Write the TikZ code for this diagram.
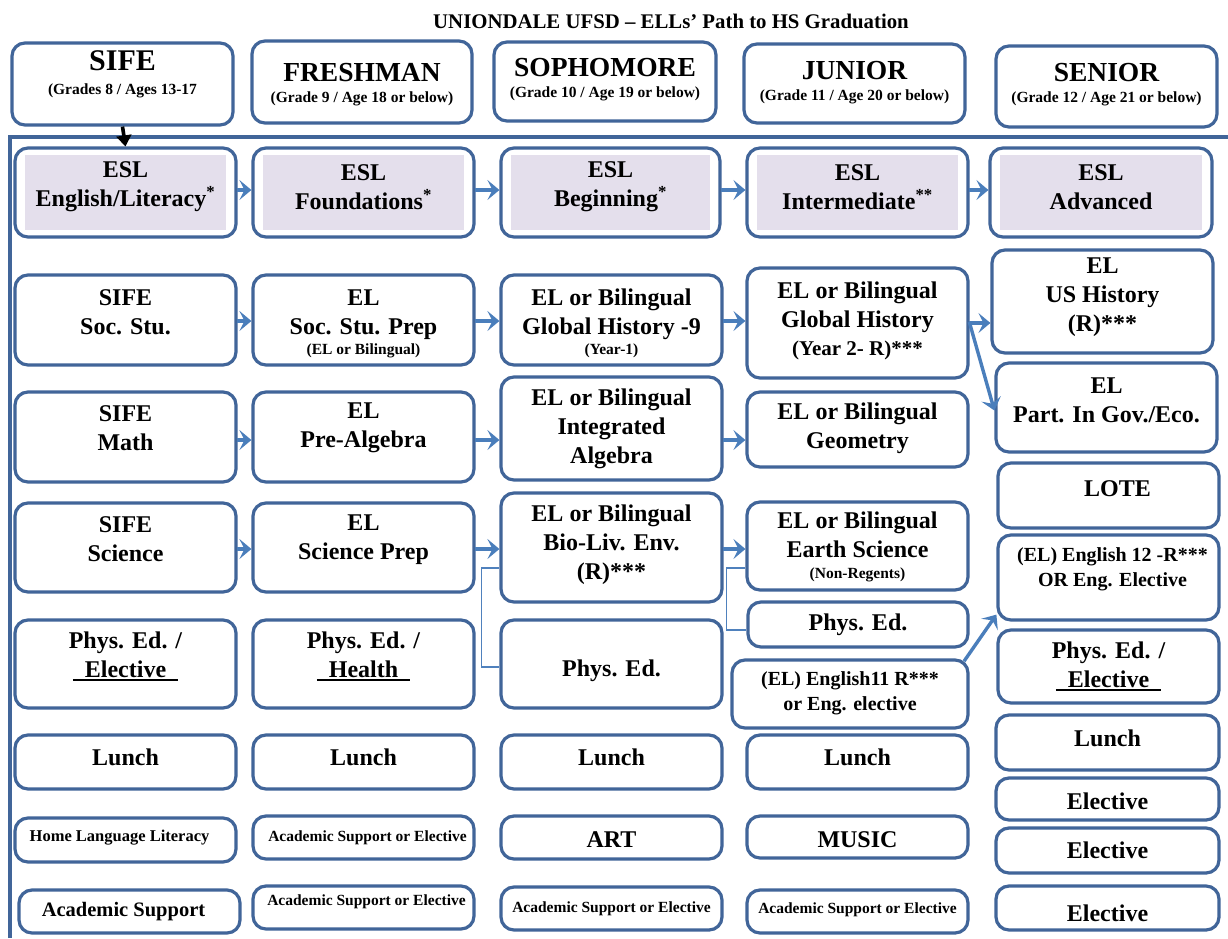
\documentclass[tikz,border=0pt]{standalone}
\usepackage{fontspec}
\setmainfont{Liberation Serif}
\usetikzlibrary{arrows.meta,fit}
\definecolor{bord}{RGB}{65,101,153}
\definecolor{arrc}{RGB}{74,126,187}
\definecolor{lav}{RGB}{228,223,236}
\definecolor{brkc}{RGB}{79,129,189}
\newcommand\fmain{\bfseries\fontsize{24}{29}\selectfont}
\newcommand\fhd{\bfseries\fontsize{27.5}{21}\selectfont}
\newcommand\fsf{\bfseries\fontsize{30}{24}\selectfont}
\newcommand\fsm{\bfseries\fontsize{15.5}{18}\selectfont}
\newcommand\fyr{\bfseries\fontsize{21}{25}\selectfont}
\newcommand\feng{\bfseries\fontsize{20}{25}\selectfont}
\newcommand\fhl{\bfseries\fontsize{16.5}{20}\selectfont}
\newcommand\fas{\bfseries\fontsize{15.5}{18}\selectfont}
\newcommand\fasb{\bfseries\fontsize{20.5}{24}\selectfont}
\newcommand\myul[1]{\setbox0\hbox{#1}\rlap{\rule[-3.5pt]{\wd0}{2pt}}\box0}
\newcommand\mybox[7]{\node[box, fit={(#2,#3)(#4,#5)}] (#1) {};\node[txt,#6] (#1-t) at (#1.center) {#7};}
\newcommand\eslbox[6]{\node[box, fit={(#2,#3)(#4,#5)}] (#1) {};
 \fill[lav] ([xshift=11.5pt,yshift=-8.5pt]#1.north west) rectangle ([xshift=-11.5pt,yshift=8.5pt]#1.south east);
 \node[txt, yshift=5.5pt] (#1-t) at (#1.center) {#6};}
\begin{document}
\begin{tikzpicture}[x=1pt,y=-1pt,
 box/.style={draw=bord, line width=3.2pt, rounded corners=13pt, inner sep=0pt},
 txt/.style={align=center, inner sep=0pt, font=\fmain},
 arr/.style={draw=arrc, line width=3.4pt, -{Stealth[length=12pt,width=20pt,inset=5pt]}, shorten <=-1pt},
 brk/.style={draw=brkc, line width=1.1pt},
 frame/.style={draw=bord, line width=3.5pt}]
\useasboundingbox (0,0) rectangle (1228,938);
\fill[white] (0,0) rectangle (1228,938);
\node[font=\bfseries\fontsize{20.8}{23}\selectfont] (title) at (671,21) {UNIONDALE UFSD – ELLs’ Path to HS Graduation};
\draw[frame] (10,938) -- (10,137) -- (1228,137);
% headers
\mybox{h1}{12}{43}{233}{125}{font=\fsf, yshift=9.5pt}{SIFE\\{\fsm (Grades 8 / Ages 13-17}}
\mybox{h2}{252}{41}{472}{123}{font=\fhd, yshift=-2.5pt}{FRESHMAN\\{\fsm (Grade 9 / Age 18 or below)}}
\mybox{h3}{494}{42}{716}{121}{font=\fhd, yshift=2pt}{SOPHOMORE\\{\fsm (Grade 10 / Age 19 or below)}}
\mybox{h4}{744}{44}{965}{123}{font=\fhd, yshift=1pt}{JUNIOR\\{\fsm (Grade 11 / Age 20 or below)}}
\mybox{h5}{996}{46}{1217}{127}{font=\fhd, yshift=1.5pt}{SENIOR\\{\fsm (Grade 12 / Age 21 or below)}}
% ESL row
\eslbox{e1}{15}{148}{236}{237}{ESL\\English/Literacy\textsuperscript{*}}
\eslbox{e2}{253}{148}{474}{237}{ESL\\Foundations\textsuperscript{*}}
\eslbox{e3}{501}{148}{720}{237}{ESL\\Beginning\textsuperscript{*}}
\eslbox{e4}{747}{148}{968}{237}{ESL\\Intermediate\textsuperscript{**}}
\eslbox{e5}{990}{148}{1212}{237}{ESL\\Advanced}
% row 2
\mybox{s1}{15}{275}{236}{365}{yshift=8pt}{SIFE\\Soc. Stu.}
\mybox{s2}{253}{275}{474}{365}{yshift=-3.5pt}{EL\\Soc. Stu. Prep\\[-9pt]{\fsm (EL or Bilingual)}}
\mybox{s3}{501}{275}{722}{365}{yshift=-3pt}{EL or Bilingual\\Global History -9\\[-9pt]{\fsm (Year-1)}}
\mybox{s4}{747}{268}{968}{378}{yshift=2.5pt}{EL or Bilingual\\Global History\\[-1pt]{\fyr (Year 2- R)***}}
\mybox{s5}{992}{250}{1213}{353}{yshift=4.5pt}{EL\\US History\\(R)***}
\mybox{s6}{996}{363}{1217}{452}{yshift=7.5pt}{EL\\Part. In Gov./Eco.}
% row 3
\mybox{m1}{15}{392}{236}{482}{yshift=9pt}{SIFE\\Math}
\mybox{m2}{253}{392}{474}{482}{yshift=9pt}{EL\\Pre-Algebra}
\mybox{m3}{501}{377}{722}{480}{}{EL or Bilingual\\Integrated\\Algebra}
\mybox{m4}{747}{392}{968}{467}{yshift=1pt}{EL or Bilingual\\Geometry}
\mybox{lote}{998}{463}{1219}{528}{yshift=6.5pt, xshift=9pt}{LOTE}
% row 4
\mybox{c1}{15}{503}{236}{592}{yshift=8pt}{SIFE\\Science}
\mybox{c2}{253}{503}{474}{592}{yshift=8pt}{EL\\Science Prep}
\mybox{c3}{501}{493}{722}{602}{yshift=3pt}{EL or Bilingual\\Bio-Liv. Env.\\(R)***}
\mybox{c4}{747}{502}{968}{590}{yshift=-0.5pt}{EL or Bilingual\\Earth Science\\[-8pt]{\fsm (Non-Regents)}}
\mybox{e12}{998}{535}{1219}{620}{font=\feng, yshift=8.5pt, xshift=4pt}{(EL) English 12 -R***\\OR Eng. Elective}
% row 5
\mybox{p1}{15}{620}{236}{708}{yshift=7.5pt}{Phys. Ed. /\\\myul{\hspace{12pt}Elective\hspace{12pt}}}
\mybox{p2}{253}{620}{474}{708}{yshift=7.5pt}{Phys. Ed. /\\\myul{\hspace{12pt}Health\hspace{12pt}}}
\mybox{p3}{501}{620}{722}{708}{yshift=-7pt}{Phys. Ed.}
\mybox{p4}{748}{602}{968}{647}{}{Phys. Ed.}
\mybox{e11}{732}{660}{968}{728}{font=\feng, yshift=1pt}{(EL) English11 R***\\or Eng. elective}
\mybox{p5}{998}{630}{1219}{703}{}{Phys. Ed. /\\\myul{\hspace{12pt}Elective\hspace{12pt}}}
% row 6
\mybox{l1}{15}{735}{236}{789}{yshift=5pt}{Lunch}
\mybox{l2}{253}{735}{474}{789}{yshift=5pt}{Lunch}
\mybox{l3}{501}{735}{722}{789}{yshift=5pt}{Lunch}
\mybox{l4}{747}{735}{968}{789}{yshift=5pt}{Lunch}
\mybox{l5}{996}{715}{1219}{770}{yshift=4.5pt}{Lunch}
% row 7
\mybox{r1}{15}{818}{236}{862}{font=\fhl, yshift=2pt, xshift=-6pt}{Home Language Literacy}
\mybox{r2}{253}{816}{474}{859}{font=\fas, xshift=4pt}{Academic Support or Elective}
\mybox{r3}{501}{816}{722}{859}{yshift=-2.5pt}{ART}
\mybox{r4}{747}{816}{968}{858}{yshift=-3pt}{MUSIC}
\mybox{r5}{996}{778}{1219}{820}{yshift=-2pt}{Elective}
\mybox{r6}{996}{828}{1219}{873}{}{Elective}
% row 8
\mybox{b1}{19}{890}{240}{933}{font=\fasb, xshift=-6pt}{Academic Support}
\mybox{b2}{253}{886}{474}{929}{font=\fas, yshift=5.5pt, xshift=3pt}{Academic Support or Elective}
\mybox{b3}{501}{887}{722}{930}{font=\fas}{Academic Support or Elective}
\mybox{b4}{747}{890}{968}{933}{font=\fas, yshift=1.5pt}{Academic Support or Elective}
\mybox{b5}{996}{886}{1219}{930}{yshift=-5pt}{Elective}
% guide coordinates
\coordinate (ye) at (0,190);
\coordinate (yr) at (0,321);
\coordinate (ym) at (0,440);
\coordinate (yc) at (0,549);
\coordinate (yb) at (0,568);
% connectors
\draw[line width=3.6pt, -{Triangle[length=11pt,width=15pt]}] (h1.south) -- (e1.north);
\draw[arr] (e1.east |- ye) -- (e2.west |- ye);
\draw[arr] (e2.east |- ye) -- (e3.west |- ye);
\draw[arr] (e3.east |- ye) -- (e4.west |- ye);
\draw[arr] (e4.east |- ye) -- (e5.west |- ye);
\draw[arr] (s1.east |- yr) -- (s2.west |- yr);
\draw[arr] (s2.east |- yr) -- (s3.west |- yr);
\draw[arr] (s3.east |- yr) -- (s4.west |- yr);
\draw[arr] (s4.east) -- (s4.east -| s5.west);
\draw[arr] (s4.east) -- ([yshift=-3pt]s6.west);
\draw[arr] (m1.east |- ym) -- (m2.west |- ym);
\draw[arr] (m2.east |- ym) -- (m3.west |- ym);
\draw[arr] (m3.east |- ym) -- (m4.west |- ym);
\draw[arr] (c1.east |- yc) -- (c2.west |- yc);
\draw[arr] (c2.east |- yc) -- (c3.west |- yc);
\draw[arr] (c3.east |- yc) -- (c4.west |- yc);
\draw[brk] (c3.west |- yb) -- ++(-18,0) |- ([yshift=-3pt]p3.west);
\draw[brk] (c4.west |- yb) -- ++(-19,0) |- ([yshift=-5.5pt]p4.west);
\draw[arr] ([xshift=-5pt,yshift=-2pt]e11.north east) -- ([yshift=7pt]e12.south west);
\end{tikzpicture}
\end{document}
